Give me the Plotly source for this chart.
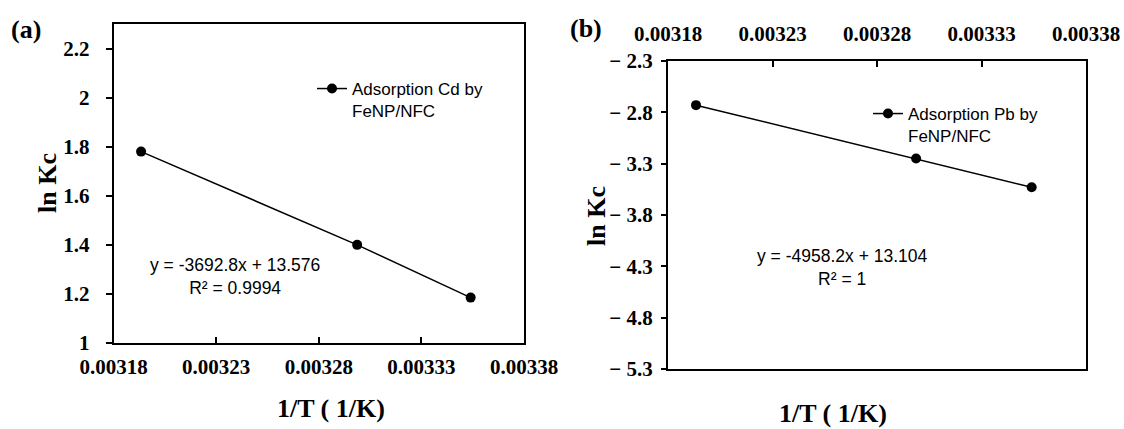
import plotly.graph_objects as go

# ---- data ----
inv_T = [0.0031934, 0.0032987, 0.003354]          # 1/T (1/K)
lnKc_cd = [1.78, 1.40, 1.185]                      # panel (a)
lnKc_pb = [-2.73, -3.25, -3.53]                    # panel (b)

x_tickvals = [0.00318, 0.00323, 0.00328, 0.00333, 0.00338]
x_ticktext = ["0.00318", "0.00323", "0.00328", "0.00333", "0.00338"]
ya_tickvals = [1.0, 1.2, 1.4, 1.6, 1.8, 2.0, 2.2]
ya_ticktext = ["1", "1.2", "1.4", "1.6", "1.8", "2", "2.2"]
yb_tickvals = [-5.3, -4.8, -4.3, -3.8, -3.3, -2.8, -2.3]
yb_ticktext = ["\u2212 5.3", "\u2212 4.8", "\u2212 4.3", "\u2212 3.8", "\u2212 3.3", "\u2212 2.8", "\u2212 2.3"]

name_cd = "Adsorption Cd by<br>FeNP/NFC"
name_pb = "Adsorption Pb by<br>FeNP/NFC"
eq_cd = "y = -3692.8x + 13.576<br>R² = 0.9994"
eq_pb = "y = -4958.2x + 13.104<br>R² = 1"
x_title = "1/T ( 1/K)"
y_title = "ln Kc"

W, H = 1124, 429
SERIF = "Liberation Serif, Times New Roman, serif"
SANS = "Liberation Sans, Arial, sans-serif"

def px(x):
    return x / W

def py(y):
    return 1 - y / H

fig = go.Figure()
fig.add_trace(go.Scatter(x=inv_T, y=lnKc_cd, mode="lines+markers", name=name_cd,
                         line=dict(color="black", width=1.5),
                         marker=dict(color="black", size=10),
                         xaxis="x", yaxis="y", legend="legend"))
fig.add_trace(go.Scatter(x=inv_T, y=lnKc_pb, mode="lines+markers", name=name_pb,
                         line=dict(color="black", width=1.5),
                         marker=dict(color="black", size=10),
                         xaxis="x2", yaxis="y2", legend="legend2"))

tickfont = dict(family=SERIF, size=21, color="black", weight="bold")
titlefont = dict(family=SERIF, size=26, color="black", weight="bold")
common = dict(showline=True, linecolor="black", linewidth=2, mirror=True,
              showgrid=False, zeroline=False, tickcolor="black", tickwidth=1.5,
              tickfont=tickfont, automargin=False)

fig.update_layout(
    width=W, height=H,
    margin=dict(l=0, r=0, t=0, b=0, autoexpand=False),
    paper_bgcolor="white", plot_bgcolor="white",
    showlegend=True,
    xaxis=dict(domain=[px(113.6), px(524)], range=[0.00318, 0.00338],
               tickmode="array", tickvals=x_tickvals, ticktext=x_ticktext,
               ticks="inside", ticklen=6, ticklabelstandoff=4, anchor="y", **common),
    yaxis=dict(domain=[py(343), py(24)], range=[1.0, 2.3],
               tickmode="array", tickvals=ya_tickvals, ticktext=ya_ticktext,
               ticks="outside", ticklen=6, ticklabelstandoff=12, anchor="x", **common),
    xaxis2=dict(domain=[px(668), px(1086)], range=[0.00318, 0.00338],
                tickmode="array", tickvals=x_tickvals, ticktext=x_ticktext,
                side="top", ticks="inside", ticklen=6, ticklabelstandoff=10,
                anchor="y2", **common),
    yaxis2=dict(domain=[py(369), py(61)], range=[-5.3, -2.3],
                tickmode="array", tickvals=yb_tickvals, ticktext=yb_ticktext,
                ticks="outside", ticklen=5, ticklabelstandoff=4, anchor="x2", **common),
    legend=dict(x=px(312), y=py(71), xanchor="left", yanchor="top",
                bgcolor="rgba(0,0,0,0)", valign="top",
                font=dict(family=SANS, size=17, color="black"),
                itemwidth=30, tracegroupgap=0),
    legend2=dict(x=px(868), y=py(96), xanchor="left", yanchor="top",
                 bgcolor="rgba(0,0,0,0)", valign="top",
                 font=dict(family=SANS, size=17, color="black"),
                 itemwidth=30, tracegroupgap=0),
)

ann_font = dict(family=SANS, size=17.5, color="black")

def label(text, x, y, font, angle=0):
    fig.add_annotation(text=text, x=px(x), y=py(y), xref="paper", yref="paper",
                       xanchor="center", yanchor="middle", showarrow=False,
                       font=font, align="center", textangle=angle)

label(eq_cd, 235, 276, ann_font)
label(eq_pb, 842, 267, ann_font)
label(x_title, 331, 408, titlefont)
label(x_title, 833, 413, titlefont)
label(y_title, 47, 183, titlefont, -90)
label(y_title, 596, 216, titlefont, -90)
label("(a)", 26, 29, titlefont)
label("(b)", 586, 28, titlefont)

fig.write_html("out.html")
